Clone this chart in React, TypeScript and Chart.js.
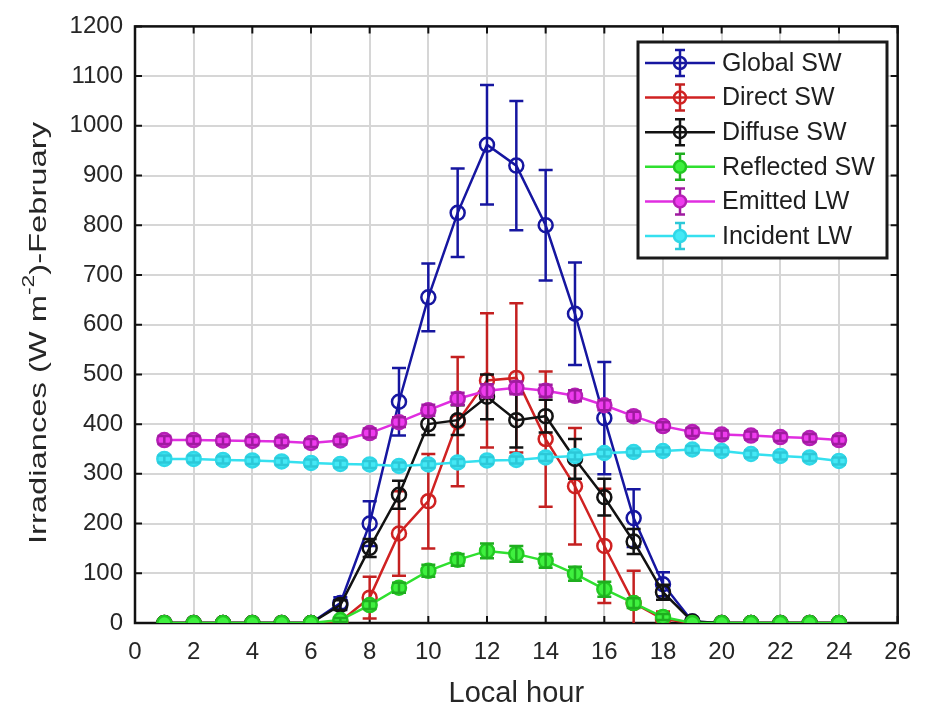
import React, { useEffect, useRef } from "react";
import { Chart, registerables } from "chart.js";

Chart.register(...registerables);

const FONT = '"Liberation Sans", Arial, Helvetica, sans-serif';

// ---- data ----
const hours = [1, 2, 3, 4, 5, 6, 7, 8, 9, 10, 11, 12, 13, 14, 15, 16, 17, 18, 19, 20, 21, 22, 23, 24];
const xTicks = [0, 2, 4, 6, 8, 10, 12, 14, 16, 18, 20, 22, 24, 26];
const yTicks = [0, 100, 200, 300, 400, 500, 600, 700, 800, 900, 1000, 1100, 1200];

const seriesNames = ["Global SW", "Direct SW", "Diffuse SW", "Reflected SW", "Emitted LW", "Incident LW"];

const globalSW = [0, 0, 0, 0, 0, 0, 40, 200, 445, 655, 825, 962, 920, 800, 622, 412, 211, 78, 3, 0, 0, 0, 0, 0];
const globalErr = [0, 0, 0, 0, 0, 0, 12, 45, 68, 68, 89, 120, 130, 111, 103, 113, 58, 24, 3, 0, 0, 0, 0, 0];

const directSW = [0, 0, 0, 0, 0, 0, 3, 51, 180, 245, 405, 488, 493, 370, 275, 155, 40, 8, 0, 0, 0, 0, 0, 0];
const directErr = [0, 0, 0, 0, 0, 0, 3, 42, 85, 95, 130, 135, 150, 136, 117, 115, 65, 15, 0, 0, 0, 0, 0, 0];

const diffuseSW = [0, 0, 0, 0, 0, 0, 36, 151, 258, 400, 408, 455, 408, 416, 330, 253, 164, 62, 3, 0, 0, 0, 0, 0];
const diffuseErr = [0, 0, 0, 0, 0, 0, 10, 18, 28, 22, 30, 45, 55, 33, 40, 37, 25, 15, 2, 0, 0, 0, 0, 0];

const reflectedSW = [0, 0, 0, 0, 0, 0, 6, 36, 71, 105, 127, 145, 139, 125, 99, 68, 40, 12, 0, 0, 0, 0, 0, 0];
const reflectedErr = [0, 0, 0, 0, 0, 0, 4, 8, 10, 12, 12, 15, 16, 14, 14, 15, 10, 6, 0, 0, 0, 0, 0, 0];

const emittedLW = [368, 368, 367, 366, 365, 362, 367, 382, 404, 428, 451, 467, 473, 467, 457, 438, 416, 396, 384, 379, 377, 374, 372, 368];
const emittedErr = [8, 8, 8, 8, 8, 8, 8, 9, 10, 11, 12, 13, 13, 12, 11, 10, 9, 8, 8, 8, 8, 8, 8, 8];

const incidentLW = [330, 330, 328, 327, 325, 322, 320, 319, 316, 319, 323, 327, 328, 333, 336, 342, 344, 346, 349, 346, 340, 336, 333, 326];
const incidentErr = [7, 7, 7, 7, 7, 7, 7, 7, 7, 7, 7, 7, 7, 7, 7, 7, 7, 7, 7, 7, 7, 7, 7, 7];

const seriesValues = [globalSW, directSW, diffuseSW, reflectedSW, emittedLW, incidentLW];
const seriesErrors = [globalErr, directErr, diffuseErr, reflectedErr, emittedErr, incidentErr];

// ---- styles ----
const lineColors = ["#1616a0", "#d02222", "#121212", "#2fe02f", "#e02ee0", "#35e0ef"];
const markerFills = ["rgba(0,0,0,0)", "rgba(0,0,0,0)", "rgba(0,0,0,0)", "#3ff03f", "#ee3cee", "#45e8f5"];
const markerEdges = ["#1616a0", "#d02222", "#121212", "#22c822", "#b51fb5", "#30d8e8"];
const errColors = ["#1616a0", "#c42020", "#121212", "#1fae1f", "#a01aa0", "#2cc8d8"];

const errorBarPlugin = {
  id: "errorBars",
  afterDatasetDraw(chart: any, args: any) {
    const ds = chart.data.datasets[args.index];
    const errs: number[] = ds.errors;
    if (!errs) return;
    const ctx = chart.ctx;
    const ys = chart.scales.y;
    const a = chart.chartArea;
    ctx.save();
    ctx.beginPath();
    ctx.rect(a.left, a.top, a.right - a.left, a.bottom - a.top);
    ctx.clip();
    ctx.strokeStyle = ds.errColor;
    ctx.lineWidth = 2.5;
    args.meta.data.forEach((pt: any, i: number) => {
      const e = errs[i];
      if (!e) return;
      const v = ds.data[i].y;
      const x = pt.x;
      const y1 = ys.getPixelForValue(v + e);
      const y2 = ys.getPixelForValue(v - e);
      ctx.beginPath();
      ctx.moveTo(x, y1);
      ctx.lineTo(x, y2);
      ctx.moveTo(x - 7, y1);
      ctx.lineTo(x + 7, y1);
      ctx.moveTo(x - 7, y2);
      ctx.lineTo(x + 7, y2);
      ctx.stroke();
    });
    ctx.restore();
  },
};

const axesBoxPlugin = {
  id: "axesBox",
  beforeDatasetsDraw(chart: any) {
    const { ctx, chartArea: a, scales } = chart;
    const xs = scales.x;
    const ys = scales.y;
    ctx.save();
    ctx.strokeStyle = "#111";
    ctx.lineWidth = 2.5;
    ctx.strokeRect(a.left, a.top, a.right - a.left, a.bottom - a.top);
    ctx.lineWidth = 2;
    ctx.beginPath();
    xs.ticks.forEach((t: any) => {
      const px = xs.getPixelForValue(t.value);
      ctx.moveTo(px, a.bottom);
      ctx.lineTo(px, a.bottom - 7);
      ctx.moveTo(px, a.top);
      ctx.lineTo(px, a.top + 7);
    });
    ys.ticks.forEach((t: any) => {
      const py = ys.getPixelForValue(t.value);
      ctx.moveTo(a.left, py);
      ctx.lineTo(a.left + 7, py);
      ctx.moveTo(a.right, py);
      ctx.lineTo(a.right - 7, py);
    });
    ctx.stroke();
    ctx.restore();
  },
};

const titlesLegendPlugin = {
  id: "titlesLegend",
  afterDraw(chart: any) {
    const { ctx, chartArea: a } = chart;
    ctx.save();
    ctx.fillStyle = "#262626";
    // x title
    ctx.font = `29px ${FONT}`;
    ctx.textAlign = "center";
    ctx.textBaseline = "alphabetic";
    ctx.fillText("Local hour", (a.left + a.right) / 2, 702);

    // y title with superscript
    const fs = 24;
    const parts = [
      { t: "Irradiances (W m", s: fs, dy: 0 },
      { t: "-2", s: fs * 0.7, dy: -fs * 0.48 },
      { t: ")-February", s: fs, dy: 0 },
    ];
    let w = 0;
    const widths: number[] = [];
    parts.forEach((p) => {
      ctx.font = `${p.s}px ${FONT}`;
      const m = ctx.measureText(p.t).width;
      widths.push(m);
      w += m;
    });
    const target = 422;
    ctx.translate(46, 333);
    ctx.rotate(-Math.PI / 2);
    ctx.scale(target / w, 1);
    ctx.textAlign = "left";
    let cx = -w / 2;
    parts.forEach((p, i) => {
      ctx.font = `${p.s}px ${FONT}`;
      ctx.fillText(p.t, cx, p.dy);
      cx += widths[i];
    });
    ctx.restore();

    // legend
    ctx.save();
    const bx = 638, by = 42, bw = 249, bh = 216;
    ctx.fillStyle = "#ffffff";
    ctx.fillRect(bx, by, bw, bh);
    ctx.strokeStyle = "#1a1a1a";
    ctx.lineWidth = 3;
    ctx.strokeRect(bx, by, bw, bh);
    seriesNames.forEach((name, i) => {
      const ry = 63 + i * 34.6;
      ctx.strokeStyle = lineColors[i];
      ctx.lineWidth = 2.5;
      ctx.beginPath();
      ctx.moveTo(645, ry);
      ctx.lineTo(715, ry);
      ctx.stroke();
      ctx.strokeStyle = errColors[i];
      ctx.beginPath();
      ctx.moveTo(680, ry - 13);
      ctx.lineTo(680, ry + 13);
      ctx.moveTo(675, ry - 13);
      ctx.lineTo(685, ry - 13);
      ctx.moveTo(675, ry + 13);
      ctx.lineTo(685, ry + 13);
      ctx.stroke();
      ctx.beginPath();
      ctx.arc(680, ry, 6, 0, Math.PI * 2);
      ctx.fillStyle = markerFills[i];
      ctx.fill();
      ctx.strokeStyle = markerEdges[i];
      ctx.stroke();
      ctx.fillStyle = "#1e1e1e";
      ctx.font = `25px ${FONT}`;
      ctx.textAlign = "left";
      ctx.textBaseline = "middle";
      ctx.fillText(name, 722, ry + 1);
    });
    ctx.restore();
  },
};

export default function App() {
  const ref = useRef<HTMLCanvasElement | null>(null);

  useEffect(() => {
    if (!ref.current) return;
    const datasets = seriesNames.map((name, i) => ({
      label: name,
      data: hours.map((h, j) => ({ x: h, y: seriesValues[i][j] })),
      errors: seriesErrors[i],
      errColor: errColors[i],
      borderColor: lineColors[i],
      backgroundColor: lineColors[i],
      borderWidth: 2.5,
      pointRadius: 7,
      pointBorderWidth: 2.5,
      pointBackgroundColor: markerFills[i],
      pointBorderColor: markerEdges[i],
      tension: 0,
      fill: false,
      order: seriesNames.length - 1 - i,
    }));

    const chart = new Chart(ref.current, {
      type: "line",
      data: { datasets: datasets as any },
      options: {
        responsive: false,
        devicePixelRatio: 1,
        animation: false,
        layout: { padding: { left: 0, right: 26, top: 17, bottom: 0 } },
        plugins: {
          legend: { display: false },
          tooltip: { enabled: false },
        },
        scales: {
          x: {
            type: "linear",
            min: 0,
            max: 26,
            afterBuildTicks: (s: any) => {
              s.ticks = xTicks.map((v) => ({ value: v }));
            },
            ticks: {
              font: { family: FONT, size: 24 },
              color: "#262626",
              padding: 15,
              maxRotation: 0,
              autoSkip: false,
              callback: (v: any) => String(v),
            },
            grid: { color: "#d6d6d6", lineWidth: 2, drawTicks: false },
            border: { display: false },
            afterFit: (s: any) => {
              s.height = 85;
            },
          },
          y: {
            type: "linear",
            min: 0,
            max: 1200,
            afterBuildTicks: (s: any) => {
              s.ticks = yTicks.map((v) => ({ value: v }));
            },
            ticks: {
              font: { family: FONT, size: 24 },
              color: "#262626",
              padding: 12,
              autoSkip: false,
              callback: (v: any) => String(v),
            },
            grid: { color: "#d6d6d6", lineWidth: 2, drawTicks: false },
            border: { display: false },
            afterFit: (s: any) => {
              s.width = 135;
            },
          },
        },
      },
      plugins: [axesBoxPlugin, errorBarPlugin, titlesLegendPlugin],
    });
    return () => chart.destroy();
  }, []);

  return (
    <div style={{ position: "fixed", left: 0, top: 0, width: 926, height: 708, background: "#fff" }}>
      <canvas ref={ref} width={926} height={708} style={{ display: "block" }} />
    </div>
  );
}
